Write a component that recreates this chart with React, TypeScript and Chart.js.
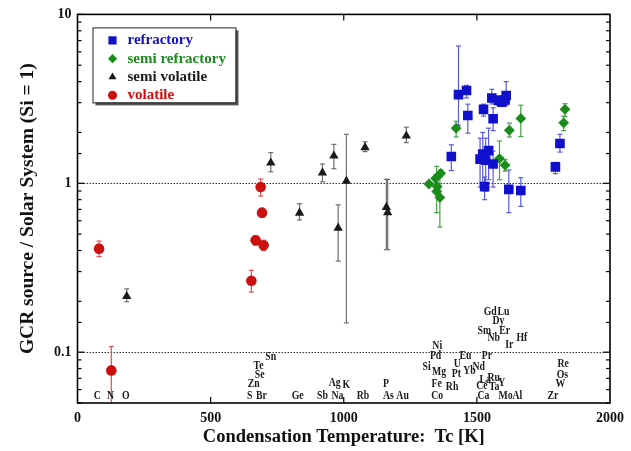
import React, { useEffect, useRef } from 'react';
import { Chart, registerables } from 'chart.js';

Chart.register(...registerables);

// ---- data (condensation temperature Tc [K], GCR source / Solar System ratio) ----
const refractoryT = [1404, 1431, 1461, 1466, 1525, 1512, 1522, 1533, 1529, 1544, 1556, 1561, 1561, 1581, 1594, 1606, 1610, 1620, 1665, 1795, 1812];
const refractoryV = [1.44, 3.35, 3.54, 2.52, 2.74, 1.39, 1.49, 1.37, 0.956, 1.56, 3.2, 2.41, 1.3, 3.09, 3.02, 3.12, 3.31, 0.92, 0.906, 1.25, 1.72];
const refractoryLo = [1.19, 2.2, 3.2, 1.98, 2.5, 0.95, 1.0, 0.9, 0.8, 1.05, 2.95, 2.05, 0.95, 2.9, 2.85, 2.95, 2.9, 0.67, 0.73, 1.14, 1.53];
const refractoryHi = [1.69, 6.5, 3.8, 2.94, 2.94, 1.85, 2.0, 1.85, 1.09, 2.12, 3.6, 2.8, 1.55, 3.3, 3.2, 3.3, 4.0, 1.2, 1.08, 1.33, 1.95];

const semiRefractoryT = [1320, 1345, 1364, 1351, 1349, 1361, 1422, 1585, 1606, 1622, 1665, 1826, 1831];
const semiRefractoryV = [0.99, 1.07, 1.145, 0.956, 0.894, 0.824, 2.12, 1.4, 1.28, 2.06, 2.42, 2.28, 2.74];
const semiRefractoryLo = [0.96, 1.02, 1.09, 0.9, 0.67, 0.55, 1.88, 1.05, 1.18, 1.88, 1.89, 2.05, 2.48];
const semiRefractoryHi = [1.02, 1.12, 1.2, 1.0, 1.26, 1.1, 2.33, 1.78, 1.38, 2.27, 2.9, 2.5, 2.96];

const semiVolatileT = [185, 726, 834, 920, 963, 979, 1010, 1080, 1160, 1165, 1235];
const semiVolatileV = [0.214, 1.32, 0.667, 1.155, 1.455, 0.544, 1.03, 1.63, 0.72, 0.672, 1.91];
const semiVolatileLo = [0.199, 1.17, 0.606, 1.02, 1.22, 0.346, 0.149, 1.54, 0.405, 0.405, 1.74];
const semiVolatileHi = [0.237, 1.52, 0.757, 1.3, 1.7, 0.745, 1.95, 1.76, 1.055, 1.055, 2.15];

const volatileT = [81, 127, 653, 669, 688, 693, 699];
const volatileV = [0.41, 0.078, 0.265, 0.46, 0.95, 0.67, 0.43];
const volatileLo = [0.368, 0.04, 0.227, 0.43, 0.84, 0.63, 0.4];
const volatileHi = [0.455, 0.108, 0.305, 0.49, 1.06, 0.71, 0.46];

const seriesNames = ['refractory', 'semi refractory', 'semi volatile', 'volatile'];
const xTickValues = [0, 500, 1000, 1500, 2000];

// element symbols annotated in data coordinates
const elementNames = ['C', 'N', 'O', 'S', 'Br', 'Zn', 'Se', 'Te', 'Sn', 'Ge', 'Sb', 'Na', 'Ag', 'K', 'Rb', 'P', 'As', 'Au',
  'Co', 'Fe', 'Rh', 'Mg', 'Si', 'Pd', 'Ni', 'Pt', 'U', 'Eu', 'Yb', 'Nd', 'Pr', 'La', 'Ru', 'Ce', 'Ta', 'Y', 'Ca', 'Mo', 'Al',
  'Zr', 'W', 'Os', 'Re', 'Gd', 'Lu', 'Dy', 'Sm', 'Er', 'Nb', 'Ir', 'Hf'];
const elementT = [74, 124, 181, 647, 691, 662, 684, 680, 726, 827, 920, 976, 966, 1010, 1072, 1159, 1168, 1221,
  1351, 1349, 1407, 1358, 1311, 1345, 1351, 1423, 1426, 1457, 1472, 1507, 1538, 1531, 1563, 1519, 1565, 1594, 1525, 1608, 1652,
  1786, 1814, 1821, 1824, 1550, 1600, 1581, 1528, 1604, 1563, 1622, 1669];
const elementY = [0.0548, 0.0548, 0.0548, 0.0548, 0.0548, 0.065, 0.0734, 0.0832, 0.093, 0.0548, 0.0548, 0.0548, 0.0659, 0.0636, 0.0548, 0.065, 0.0548, 0.0548,
  0.0548, 0.0644, 0.0621, 0.076, 0.0813, 0.0951, 0.1088, 0.0744, 0.0851, 0.0951, 0.0778, 0.0813, 0.0951, 0.0687, 0.0705, 0.0628, 0.0621, 0.0656, 0.0548, 0.0548, 0.0548,
  0.0548, 0.0644, 0.0734, 0.0851, 0.174, 0.174, 0.152, 0.133, 0.133, 0.121, 0.11, 0.1217];

const SERIF = "'Liberation Serif', 'Times New Roman', serif";
const COLORS = ['#1010cc', '#1b8c1b', '#1a1a1a', '#cc1010'];
const ERR_COLORS = ['#5a5adc', '#46a046', '#6e6e6e', '#e05050'];
const STYLES: any[] = ['rect', 'rectRot', 'triangle', 'circle'];
const RADII = [6.8, 5.4, 5.4, 5.3];

function pts(t: number[], v: number[]) {
  return t.map((x, i) => ({ x, y: v[i] }));
}

function drawMarker(ctx: CanvasRenderingContext2D, style: string, x: number, y: number, r: number, color: string) {
  ctx.save();
  ctx.fillStyle = color;
  ctx.beginPath();
  if (style === 'rect') {
    const s = Math.SQRT1_2 * r;
    ctx.rect(x - s, y - s, 2 * s, 2 * s);
  } else if (style === 'rectRot') {
    ctx.moveTo(x - r, y); ctx.lineTo(x, y - r); ctx.lineTo(x + r, y); ctx.lineTo(x, y + r); ctx.closePath();
  } else if (style === 'triangle') {
    ctx.moveTo(x, y - r); ctx.lineTo(x + r * 0.866, y + r * 0.5); ctx.lineTo(x - r * 0.866, y + r * 0.5); ctx.closePath();
  } else {
    ctx.arc(x, y, r, 0, Math.PI * 2);
  }
  ctx.fill();
  ctx.restore();
}

const decorPlugin = {
  id: 'decor',
  beforeDatasetsDraw(chart: any) {
    const ctx = chart.ctx as CanvasRenderingContext2D;
    const xs = chart.scales.x, ys = chart.scales.y;
    const { left, right, bottom } = chart.chartArea;
    ctx.save();
    // dotted reference lines at 1 and 0.1
    ctx.strokeStyle = '#333';
    ctx.lineWidth = 1;
    ctx.setLineDash([1.5, 1.5]);
    [1, 0.1].forEach((v) => {
      const y = Math.round(ys.getPixelForValue(v)) + 0.5;
      ctx.beginPath(); ctx.moveTo(left, y); ctx.lineTo(right, y); ctx.stroke();
    });
    ctx.setLineDash([]);
    // error bars
    chart.data.datasets.forEach((ds: any) => {
      ctx.strokeStyle = ds.errColor;
      ctx.lineWidth = 1.2;
      ds.data.forEach((p: any, i: number) => {
        const x = xs.getPixelForValue(p.x);
        const lo = ds.errLo[i], hi = ds.errHi[i];
        let yLo = ys.getPixelForValue(Math.max(lo, ys.min));
        const yHi = ys.getPixelForValue(hi);
        const loClipped = lo < ys.min;
        yLo = Math.min(yLo, bottom);
        ctx.beginPath(); ctx.moveTo(x, yLo); ctx.lineTo(x, yHi); ctx.stroke();
        ctx.beginPath(); ctx.moveTo(x - 2.5, yHi); ctx.lineTo(x + 2.5, yHi); ctx.stroke();
        if (!loClipped) { ctx.beginPath(); ctx.moveTo(x - 2.5, yLo); ctx.lineTo(x + 2.5, yLo); ctx.stroke(); }
      });
    });
    ctx.restore();
  },
  afterDraw(chart: any) {
    const ctx = chart.ctx as CanvasRenderingContext2D;
    const xs = chart.scales.x, ys = chart.scales.y;
    const { left, right, top, bottom } = chart.chartArea;
    ctx.save();
    // frame
    ctx.strokeStyle = '#000';
    ctx.lineWidth = 1.6;
    ctx.strokeRect(left, top, right - left, bottom - top);
    // inward ticks
    ctx.lineWidth = 1.2;
    ys.ticks.forEach((t: any) => {
      const y = ys.getPixelForValue(t.value);
      const lg = Math.log10(t.value);
      const major = Math.abs(lg - Math.round(lg)) < 1e-6;
      const len = major ? 7 : 4;
      ctx.beginPath(); ctx.moveTo(left, y); ctx.lineTo(left + len, y); ctx.stroke();
      ctx.beginPath(); ctx.moveTo(right, y); ctx.lineTo(right - len, y); ctx.stroke();
    });
    xs.ticks.forEach((t: any) => {
      if (t.value <= xs.min || t.value >= xs.max) return;
      const x = xs.getPixelForValue(t.value);
      ctx.beginPath(); ctx.moveTo(x, bottom); ctx.lineTo(x, bottom - 6); ctx.stroke();
      ctx.beginPath(); ctx.moveTo(x, top); ctx.lineTo(x, top + 6); ctx.stroke();
    });
    // element labels
    ctx.fillStyle = '#1a1a1a';
    ctx.font = `bold 11.5px ${SERIF}`;
    ctx.textAlign = 'center';
    ctx.textBaseline = 'middle';
    elementNames.forEach((name, i) => {
      const x = xs.getPixelForValue(elementT[i]);
      const y = ys.getPixelForValue(elementY[i]);
      ctx.save();
      ctx.translate(x, y);
      ctx.scale(0.85, 1);
      ctx.fillText(name, 0, 0);
      ctx.restore();
    });
    // legend box
    const bx = left + 15, by = top + 13, bw = 143, bh = 75;
    ctx.fillStyle = '#555';
    ctx.fillRect(bx + 3, by + 3, bw, bh);
    ctx.fillStyle = '#fff';
    ctx.fillRect(bx, by, bw, bh);
    ctx.strokeStyle = '#222';
    ctx.lineWidth = 1;
    ctx.strokeRect(bx + 0.5, by + 0.5, bw, bh);
    ctx.font = `bold 15px ${SERIF}`;
    ctx.textAlign = 'left';
    ctx.textBaseline = 'middle';
    seriesNames.forEach((name, i) => {
      const cy = by + 13 + i * 18.3;
      drawMarker(ctx, STYLES[i], bx + 20, cy, RADII[i] * 0.85, COLORS[i]);
      ctx.fillStyle = COLORS[i];
      ctx.fillText(name, bx + 35, cy);
    });
    ctx.restore();
  },
};

export default function App() {
  const ref = useRef<HTMLCanvasElement>(null);
  useEffect(() => {
    document.body.style.margin = '0';
    const los = [refractoryLo, semiRefractoryLo, semiVolatileLo, volatileLo];
    const his = [refractoryHi, semiRefractoryHi, semiVolatileHi, volatileHi];
    const data = [
      pts(refractoryT, refractoryV),
      pts(semiRefractoryT, semiRefractoryV),
      pts(semiVolatileT, semiVolatileV),
      pts(volatileT, volatileV),
    ];
    const chart = new Chart(ref.current as HTMLCanvasElement, {
      type: 'scatter',
      data: {
        datasets: data.map((d, i) => ({
          label: seriesNames[i],
          data: d,
          pointStyle: STYLES[i],
          pointRadius: RADII[i],
          pointBackgroundColor: COLORS[i],
          pointBorderColor: COLORS[i],
          pointBorderWidth: 0,
          showLine: false,
          errLo: los[i],
          errHi: his[i],
          errColor: ERR_COLORS[i],
        })) as any,
      },
      options: {
        animation: false,
        responsive: true,
        maintainAspectRatio: false,
        layout: { padding: { left: 13, right: 17, top: 9, bottom: 0 } },
        plugins: { legend: { display: false }, tooltip: { enabled: false } },
        scales: {
          x: {
            type: 'linear',
            min: 0,
            max: 2000,
            afterFit: (s: any) => { s.height = 48; },
            afterBuildTicks: (s: any) => { s.ticks = xTickValues.map((v) => ({ value: v })); },
            grid: { display: false, drawTicks: false },
            border: { display: false },
            ticks: {
              padding: 7,
              color: '#111',
              font: { family: SERIF, size: 14, weight: 'bold' },
              callback: (v: any) => String(v),
            },
            title: {
              display: true,
              text: 'Condensation Temperature:  Tc [K]',
              color: '#111',
              padding: { top: 0, bottom: 3 },
              font: { family: SERIF, size: 18.5, weight: 'bold' },
            },
          },
          y: {
            type: 'logarithmic',
            min: 0.05,
            max: 10,
            afterFit: (s: any) => { s.width = 64.5; },
            grid: { display: false, drawTicks: false },
            border: { display: false },
            ticks: {
              autoSkip: false,
              padding: 6,
              color: '#111',
              font: { family: SERIF, size: 14, weight: 'bold' },
              callback: (v: any) => {
                const lg = Math.log10(Number(v));
                return Math.abs(lg - Math.round(lg)) < 1e-6 ? String(Number(Number(v).toPrecision(3))) : '';
              },
            },
            title: {
              display: true,
              text: 'GCR source / Solar System (Si = 1)',
              color: '#111',
              padding: { top: 3, bottom: 0 },
              font: { family: SERIF, size: 19.5, weight: 'bold' },
            },
          },
        },
      },
      plugins: [decorPlugin],
    });
    return () => chart.destroy();
  }, []);
  return (
    <div style={{ position: 'relative', width: 631, height: 451 }}>
      <canvas ref={ref} />
    </div>
  );
}
